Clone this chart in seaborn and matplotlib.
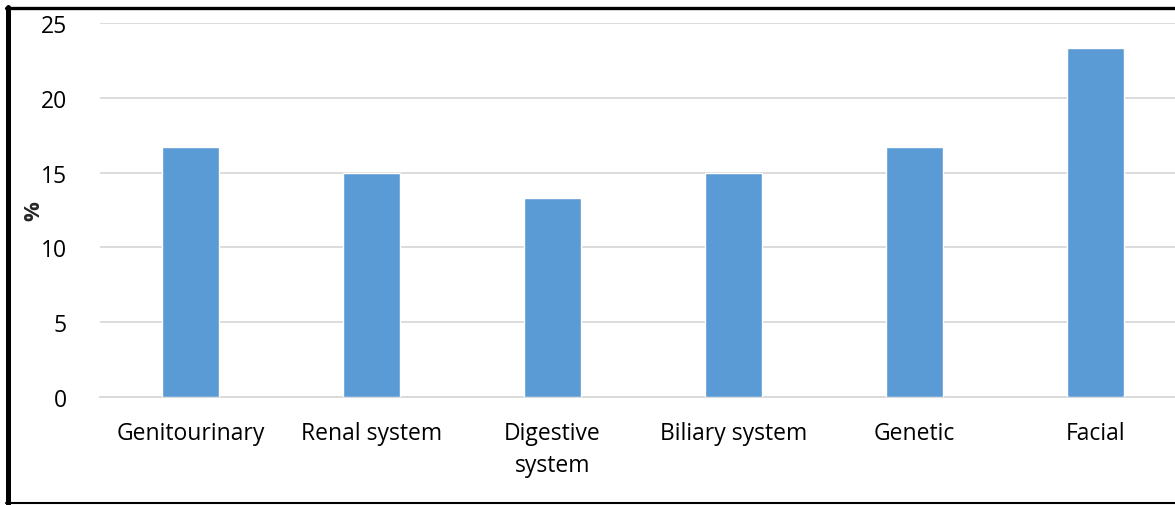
import matplotlib
matplotlib.use("Agg")
import matplotlib.pyplot as plt
import seaborn as sns
import pandas as pd
from matplotlib.lines import Line2D

categories = ["Genitourinary", "Renal system", "Digestive\nsystem", "Biliary system", "Genetic", "Facial"]
values = [16.7, 15.0, 13.3, 15.0, 16.7, 23.3]
yticks = [0, 5, 10, 15, 20, 25]

sns.set_theme(style="white")
plt.rcParams['font.family'] = ['Open Sans', 'DejaVu Sans']

W, H = 1175, 506
fig = plt.figure(figsize=(W / 100, H / 100), dpi=100)
left, right = 100 / W, 1186 / W
bottom, top = 1 - 398 / H, 1 - 24 / H
ax = fig.add_axes([left, bottom, right - left, top - bottom])

df = pd.DataFrame({"cat": categories, "val": values})
sns.barplot(data=df, x="cat", y="val", color="#5B9BD5", saturation=1, width=0.31, ax=ax, zorder=3)

ax.set_ylim(0, 25)
ax.set_yticks(yticks)
ax.set_xlim(-0.5, len(categories) - 0.5)
ax.yaxis.grid(True, color="#d9d9d9", linewidth=1.3, zorder=0)
ax.set_axisbelow(True)
for s in ["top", "right", "left"]:
    ax.spines[s].set_visible(False)
ax.spines["bottom"].set_color("#d9d9d9")
ax.spines["bottom"].set_linewidth(1.3)
ax.tick_params(axis="y", length=0, pad=24, labelsize=16.5, labelcolor="black")
ax.tick_params(axis="x", length=0, pad=17, labelsize=16.5, labelcolor="black")
for lbl in ax.get_xticklabels():
    lbl.set_linespacing(1.45)
ax.set_xlabel("")
ax.set_ylabel("%", fontsize=16, fontweight="bold")
ax.yaxis.set_label_coords(-56 / 1086, 0.5)

# figure border
fig.add_artist(Line2D([7.5 / W, 7.5 / W], [1 - 8 / H, 1 - 505 / H], color="black", linewidth=3.6, transform=fig.transFigure))
fig.add_artist(Line2D([5.5 / W, 1.0], [1 - 9 / H, 1 - 9 / H], color="black", linewidth=2.4, transform=fig.transFigure))
fig.add_artist(Line2D([5.5 / W, 1.0], [1 - 504 / H, 1 - 504 / H], color="black", linewidth=1.5, transform=fig.transFigure))

fig.savefig("out.png", dpi=100)
